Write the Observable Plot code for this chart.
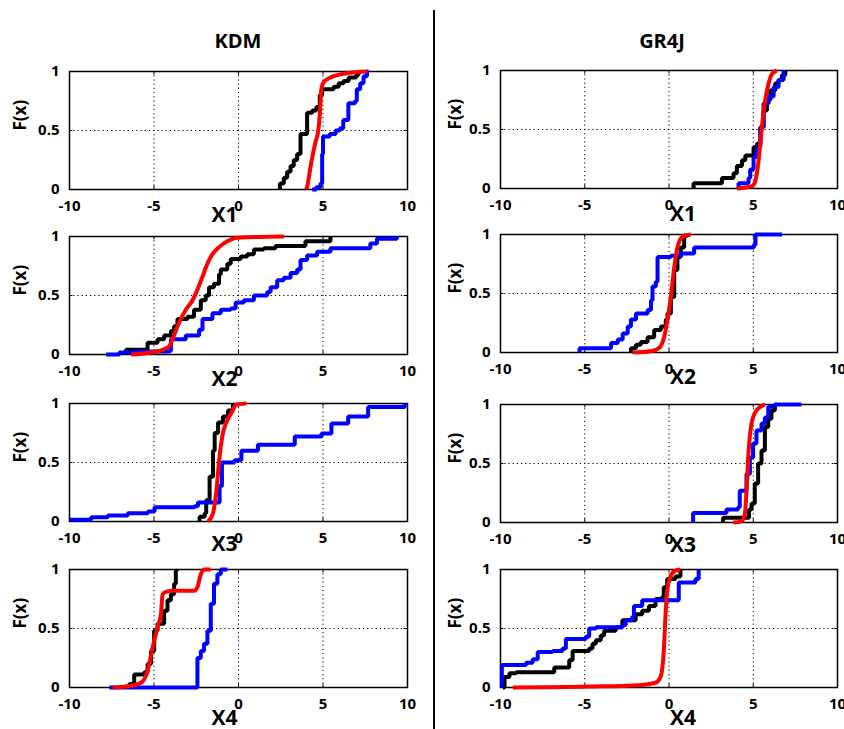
<!DOCTYPE html>
<html><head><meta charset="utf-8">
<script src="https://cdn.jsdelivr.net/npm/d3@7"></script>
<script src="https://cdn.jsdelivr.net/npm/@observablehq/plot@0.6"></script>
<style>
body{margin:0;background:#fff;}
#wrap{position:relative;width:844px;height:729px;background:#fff;font-family:'Open Sans',sans-serif;overflow:hidden;}
.title{position:absolute;font-size:20px;font-weight:700;transform:translate(-50%,-50%);white-space:nowrap;}
.divider{position:absolute;left:433px;top:10px;width:2px;height:719px;background:#000;}
</style></head><body><div id="wrap"></div>
<script>
// ---- labels / ticks ----
const models = ["KDM", "GR4J"];
const params = ["X1", "X2", "X3", "X4"];
const xTicks = [-10, -5, 0, 5, 10];
const yTicks = [0, 0.5, 1];
const gridX = [-5, 0, 5];
const gridY = [0.5];
const yLabel = "F(x)";

// ---- data: [x, F(x)] ; black & blue = empirical steps, red = smooth CDF ----
const kdmX1Black = [[2.45,0],[2.45,0.05],[2.68,0.1],[2.88,0.15],[3.08,0.2],[3.27,0.25],[3.47,0.3],[3.67,0.47],[4.06,0.65],[4.36,0.67],[4.61,0.7],[4.81,0.8],[4.95,0.85],[5.63,0.87],[5.93,0.9],[6.22,0.92],[6.52,0.95],[6.97,0.97],[7.1,1]];
const kdmX1Blue = [[4.36,0],[4.6,0.02],[4.85,0.05],[4.95,0.3],[5.0,0.45],[5.4,0.47],[5.75,0.5],[6.0,0.52],[6.2,0.59],[6.5,0.73],[6.9,0.75],[7.0,0.85],[7.2,0.9],[7.4,0.96],[7.6,1],[7.7,1]];
const kdmX1Red = [[4.02,0],[4.1,0.05],[4.26,0.19],[4.55,0.4],[4.72,0.5],[4.82,0.65],[4.9,0.85],[5.0,0.9],[5.2,0.93],[5.63,0.96],[6.4,0.985],[7.6,1]];

const kdmX2Black = [[-6.66,0],[-6.66,0.04],[-5.38,0.1],[-4.79,0.13],[-4.4,0.16],[-4.0,0.2],[-3.81,0.24],[-3.61,0.3],[-3.02,0.32],[-2.63,0.38],[-2.23,0.46],[-1.94,0.5],[-1.74,0.57],[-1.45,0.6],[-1.15,0.68],[-1.05,0.72],[-0.66,0.77],[-0.46,0.81],[0.13,0.83],[0.52,0.85],[0.91,0.89],[1.5,0.9],[2.19,0.92],[3.96,0.96],[5.44,1]];
const kdmX2Blue = [[-7.84,0],[-7.05,0.017],[-6.17,0.025],[-4.1,0.03],[-4.0,0.13],[-3.12,0.16],[-2.33,0.21],[-2.13,0.3],[-1.54,0.35],[-1.05,0.38],[-0.46,0.39],[-0.17,0.44],[0.32,0.46],[0.91,0.5],[1.7,0.53],[1.9,0.57],[2.29,0.63],[2.68,0.65],[3.08,0.69],[3.47,0.72],[3.67,0.8],[4.06,0.84],[4.65,0.87],[5.44,0.9],[7.8,0.94],[8.19,0.98],[9.37,1]];
const kdmX2Red = [[-6.36,0],[-5.18,0.017],[-4.4,0.045],[-4.1,0.07],[-3.9,0.13],[-3.61,0.24],[-3.12,0.38],[-2.72,0.46],[-2.43,0.55],[-2.13,0.66],[-1.84,0.77],[-1.54,0.85],[-1.15,0.91],[-0.66,0.96],[-0.07,0.99],[2.68,1]];

const kdmX3Black = [[-2.3,0],[-2.3,0.04],[-2.0,0.07],[-1.91,0.18],[-1.71,0.38],[-1.51,0.6],[-1.41,0.75],[-1.21,0.84],[-0.92,0.89],[-0.62,0.94],[-0.33,1]];
const kdmX3Blue = [[-10,0.015],[-8.72,0.037],[-7.73,0.05],[-6.55,0.07],[-5.36,0.085],[-4.97,0.12],[-2.6,0.13],[-2.4,0.16],[-1.12,0.3],[-0.98,0.5],[-0.23,0.52],[0.17,0.6],[1.15,0.65],[3.33,0.72],[4.91,0.745],[5.5,0.83],[6.49,0.89],[7.67,0.97],[9.84,1]];
const kdmX3Red = [[-1.81,0],[-1.51,0.07],[-1.31,0.26],[-1.12,0.55],[-0.92,0.75],[-0.72,0.84],[-0.42,0.92],[-0.13,0.99],[0.46,1]];

const kdmX4Black = [[-6.46,0],[-6.46,0.03],[-6.17,0.11],[-5.58,0.13],[-5.38,0.2],[-5.18,0.31],[-4.99,0.48],[-4.79,0.54],[-4.4,0.65],[-4.2,0.74],[-4.0,0.79],[-3.81,0.88],[-3.71,0.99],[-3.65,1]];
const kdmX4Blue = [[-7.64,0],[-2.43,0],[-2.43,0.25],[-2.23,0.31],[-2.04,0.37],[-1.84,0.48],[-1.64,0.71],[-1.45,0.88],[-1.25,0.96],[-1.05,1],[-0.66,1]];
const kdmX4Red = [[-7.44,0],[-6.36,0.015],[-5.77,0.04],[-5.38,0.14],[-5.08,0.34],[-4.79,0.51],[-4.59,0.62],[-4.49,0.79],[-4.3,0.81],[-3.81,0.82],[-2.63,0.82],[-2.43,0.85],[-2.23,0.96],[-2.04,1],[-1.64,1]];

const gr4jX1Black = [[1.46,0],[1.46,0.045],[3.14,0.09],[3.83,0.13],[4.03,0.19],[4.33,0.24],[4.53,0.28],[5.02,0.35],[5.22,0.38],[5.42,0.52],[5.61,0.66],[5.81,0.75],[6.01,0.83],[6.3,0.89],[6.5,0.92],[6.7,0.96],[6.9,1]];
const gr4jX1Blue = [[4.13,0],[4.13,0.045],[4.72,0.09],[4.82,0.16],[5.02,0.27],[5.22,0.35],[5.42,0.52],[5.61,0.72],[5.91,0.78],[6.21,0.86],[6.5,0.92],[6.8,1]];
const gr4jX1Red = [[4.03,0],[4.92,0.02],[5.12,0.06],[5.32,0.24],[5.51,0.52],[5.71,0.75],[5.91,0.89],[6.11,0.97],[6.4,1]];

const gr4jX2Black = [[-2.26,0],[-2.26,0.035],[-1.96,0.065],[-1.67,0.09],[-1.27,0.13],[-0.88,0.19],[-0.48,0.22],[-0.19,0.28],[-0.09,0.33],[0.11,0.47],[0.31,0.7],[0.5,0.81],[0.7,0.89],[0.9,0.99],[1.09,1]];
const gr4jX2Blue = [[-5.31,0],[-5.31,0.035],[-3.44,0.08],[-3.04,0.11],[-2.75,0.16],[-2.45,0.22],[-2.26,0.28],[-1.96,0.33],[-1.27,0.36],[-1.07,0.44],[-0.98,0.56],[-0.78,0.6],[-0.68,0.81],[0.11,0.82],[0.7,0.84],[1.49,0.89],[5.03,0.91],[5.13,1],[6.71,1]];
const gr4jX2Red = [[-2.16,0],[-1.07,0.01],[-0.58,0.04],[-0.29,0.13],[-0.09,0.28],[0.11,0.47],[0.31,0.72],[0.5,0.89],[0.8,0.98],[1.29,1]];

const gr4jX3Black = [[3.21,0],[3.21,0.04],[4.75,0.11],[4.9,0.16],[5.09,0.33],[5.29,0.5],[5.49,0.61],[5.69,0.81],[5.89,0.88],[6.08,0.95],[6.28,1]];
const gr4jX3Blue = [[1.43,0],[1.43,0.08],[3.41,0.11],[4.1,0.13],[4.2,0.27],[4.6,0.41],[4.8,0.55],[4.99,0.67],[5.19,0.78],[5.49,0.84],[5.69,0.89],[5.89,0.98],[6.28,1],[7.86,1]];
const gr4jX3Red = [[3.81,0],[4.3,0.01],[4.5,0.07],[4.6,0.27],[4.7,0.55],[4.9,0.84],[5.19,0.95],[5.69,1]];

const gr4jX4Black = [[-9.86,0],[-9.76,0.09],[-9.47,0.12],[-9.07,0.13],[-6.81,0.17],[-5.92,0.23],[-5.72,0.31],[-4.74,0.33],[-4.54,0.37],[-4.34,0.4],[-4.05,0.44],[-3.85,0.48],[-3.16,0.51],[-2.77,0.57],[-1.98,0.62],[-1.59,0.65],[-1.19,0.69],[-0.8,0.75],[-0.4,0.77],[-0.31,0.85],[-0.11,0.92],[0.38,0.94],[0.68,1]];
const gr4jX4Blue = [[-9.92,0],[-9.92,0.19],[-8.48,0.21],[-8.09,0.24],[-7.79,0.3],[-6.91,0.31],[-6.32,0.33],[-6.12,0.41],[-4.94,0.43],[-4.74,0.5],[-4.34,0.51],[-2.77,0.53],[-2.57,0.57],[-2.18,0.6],[-2.08,0.69],[-1.59,0.74],[0.58,0.89],[1.57,0.92],[1.76,1]];
const gr4jX4Red = [[-9.27,0],[-4.74,0.008],[-1.78,0.02],[-0.8,0.04],[-0.5,0.09],[-0.31,0.31],[-0.21,0.6],[-0.11,0.82],[0.09,0.94],[0.38,0.99],[0.68,1]];

// ---- assemble ----
const panels = {
  KDM: [[kdmX1Black,kdmX1Blue,kdmX1Red],[kdmX2Black,kdmX2Blue,kdmX2Red],[kdmX3Black,kdmX3Blue,kdmX3Red],[kdmX4Black,kdmX4Blue,kdmX4Red]],
  GR4J: [[gr4jX1Black,gr4jX1Blue,gr4jX1Red],[gr4jX2Black,gr4jX2Blue,gr4jX2Red],[gr4jX3Black,gr4jX3Blue,gr4jX3Red],[gr4jX4Black,gr4jX4Blue,gr4jX4Red]]
};

const wrap = document.getElementById("wrap");
const FONT = "'Open Sans', sans-serif";
const titleX = [238, 662];
models.forEach((m, i) => {
  const d = document.createElement("div");
  d.className = "title"; d.textContent = m;
  d.style.left = titleX[i] + "px"; d.style.top = "40px";
  wrap.appendChild(d);
});
const div = document.createElement("div"); div.className = "divider"; wrap.appendChild(div);

const layout = [
  {svgLeft: 0, width: 420, ml: 69, mr: 13, tops: [71, 236, 403, 569], ylabDx: -49, xlabDx: -14},
  {svgLeft: 420, width: 424, ml: 80, mr: 7, tops: [70, 234, 404, 569], ylabDx: -45, xlabDx: 14}
];
const xlabDy = [32, 31, 29, 37];
const MT = 10, MB = 50, FH = 118;
const X = d => d[0], Y = d => d[1];
const fmt = d => String(d);

models.forEach((m, ci) => {
  const L = layout[ci];
  params.forEach((p, ri) => {
    const [blk, blu, red] = panels[m][ri];
    const svg = Plot.plot({
      width: L.width, height: MT + FH + MB,
      marginLeft: L.ml, marginRight: L.mr, marginTop: MT, marginBottom: MB,
      style: {background: "transparent", fontFamily: FONT, fontSize: "15px", fontWeight: "bold", color: "#000", overflow: "visible"},
      x: {domain: [-10, 10], axis: null},
      y: {domain: [0, 1], axis: null},
      marks: [
        Plot.ruleX(gridX, {stroke: "#000", strokeWidth: 1, strokeDasharray: "1.2,3"}),
        Plot.ruleY(gridY, {stroke: "#000", strokeWidth: 1, strokeDasharray: "1.2,3"}),
        Plot.ruleX(xTicks, {y1: 0, y2: 0.03, stroke: "#000", strokeWidth: 1}),
        Plot.ruleX(xTicks, {y1: 0.97, y2: 1, stroke: "#000", strokeWidth: 1}),
        Plot.ruleY(yTicks, {x1: -10, x2: -9.8, stroke: "#000", strokeWidth: 1}),
        Plot.ruleY(yTicks, {x1: 9.8, x2: 10, stroke: "#000", strokeWidth: 1}),
        Plot.frame({stroke: "#000", strokeWidth: 1.5}),
        // tick labels
        Plot.text(xTicks, {x: d => d, frameAnchor: "bottom", dy: 21, text: fmt, fontSize: 15, fontWeight: "bold", fill: "#000"}),
        Plot.text(yTicks, {y: d => d, frameAnchor: "left", dx: -10, textAnchor: "end", text: fmt, fontSize: 15, fontWeight: "bold", fill: "#000"}),
        // data
        Plot.line(blk, {x: X, y: Y, stroke: "#000000", strokeWidth: 4, curve: "step-after", strokeLinejoin: "miter", strokeLinecap: "butt"}),
        Plot.line(blu, {x: X, y: Y, stroke: "#0000ff", strokeWidth: 4, curve: "step-after", strokeLinejoin: "miter", strokeLinecap: "butt"}),
        Plot.line(red, {x: X, y: Y, stroke: "#ff0000", strokeWidth: 4, curve: "monotone-x", strokeLinecap: "butt"}),
        // axis titles
        Plot.text([p], {frameAnchor: "bottom", dx: L.xlabDx, dy: xlabDy[ri], text: d => d, fontSize: 21, fontWeight: "bold", fill: "#000"}),
        Plot.text([yLabel], {frameAnchor: "left", dx: L.ylabDx, rotate: -90, text: d => d, fontSize: 17, fontWeight: "bold", fill: "#000"})
      ]
    });
    svg.style.position = "absolute";
    svg.style.left = L.svgLeft + "px";
    svg.style.top = (L.tops[ri] - MT) + "px";
    svg.style.maxWidth = "none";
    wrap.appendChild(svg);
  });
});
</script></body></html>
